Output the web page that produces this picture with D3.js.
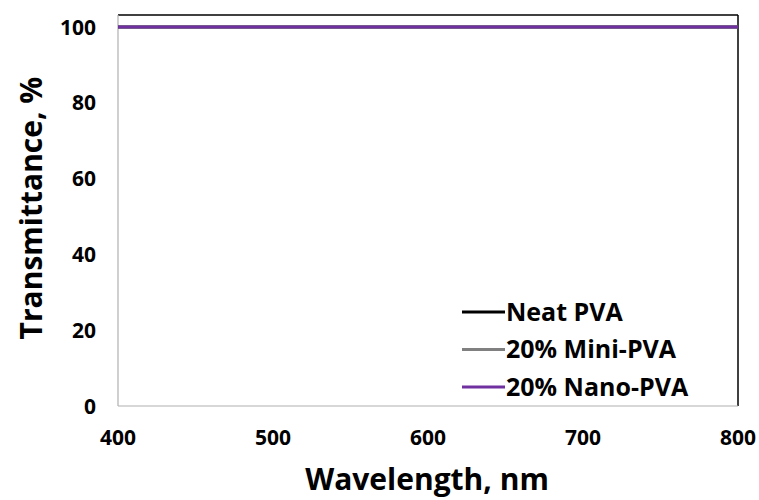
<!DOCTYPE html>
<html>
<head>
<meta charset="utf-8">
<script src="https://cdn.jsdelivr.net/npm/d3@7"></script>
<style>
  body { margin: 0; background: #fff; }
  text { font-family: "Open Sans", Lato, sans-serif; font-weight: bold; fill: #000; }
</style>
</head>
<body>
<script>
// data: all three films sit at ~100 % over the whole range
var wavelengths = [400, 500, 600, 700, 800];
var neatPVA = [100, 100, 100, 100, 100];
var miniPVA = [100, 100, 100, 100, 100];
var nanoPVA = [100, 100, 100, 100, 100];
var seriesNames = ["Neat PVA", "20% Mini-PVA", "20% Nano-PVA"];
var seriesColors = ["#000000", "#808080", "#7030a0"];
var xTicks = [400, 500, 600, 700, 800];
var yTicks = [0, 20, 40, 60, 80, 100];

var width = 759, height = 500;
var plot = {left: 118, top: 15, right: 738, bottom: 406};

var svg = d3.select("body").append("svg")
  .attr("width", width)
  .attr("height", height);

var x = d3.scaleLinear().domain([400, 800]).range([plot.left, plot.right]);
var y = d3.scaleLinear().domain([0, 103.2]).range([plot.bottom, plot.top]);

// frame: grey left/bottom axes, black top/right
svg.append("line").attr("x1", plot.left).attr("x2", plot.right).attr("y1", plot.top).attr("y2", plot.top)
  .attr("stroke", "#000").attr("stroke-width", 1.5);
svg.append("line").attr("x1", plot.right).attr("x2", plot.right).attr("y1", plot.top).attr("y2", plot.bottom)
  .attr("stroke", "#000").attr("stroke-width", 1.5);
svg.append("line").attr("x1", plot.left).attr("x2", plot.left).attr("y1", plot.top).attr("y2", plot.bottom)
  .attr("stroke", "#b0b0b0").attr("stroke-width", 1.2);
svg.append("line").attr("x1", plot.left).attr("x2", plot.right).attr("y1", plot.bottom).attr("y2", plot.bottom)
  .attr("stroke", "#b0b0b0").attr("stroke-width", 1.2);

// tick labels
svg.selectAll(".ylab").data(yTicks).enter().append("text")
  .attr("class", "ylab")
  .attr("x", 96)
  .attr("y", function(d){ return y(d); })
  .attr("dy", "0.36em")
  .attr("text-anchor", "end")
  .style("font-size", "21px")
  .text(function(d){ return d; });

svg.selectAll(".xlab").data(xTicks).enter().append("text")
  .attr("class", "xlab")
  .attr("x", function(d){ return x(d); })
  .attr("y", 445)
  .attr("text-anchor", "middle")
  .style("font-size", "21px")
  .text(function(d){ return d; });

// axis titles
svg.append("text")
  .attr("x", 427)
  .attr("y", 490)
  .attr("text-anchor", "middle")
  .style("font-size", "30px")
  .text("Wavelength, nm");

svg.append("text")
  .attr("transform", "translate(42,208) rotate(-90)")
  .attr("text-anchor", "middle")
  .style("font-size", "30px")
  .text("Transmittance, %");

// series lines
var line = d3.line()
  .x(function(d){ return x(d[0]); })
  .y(function(d){ return y(d[1]); });

[neatPVA, miniPVA, nanoPVA].forEach(function(vals, i){
  svg.append("path")
    .datum(d3.zip(wavelengths, vals))
    .attr("fill", "none")
    .attr("stroke", seriesColors[i])
    .attr("stroke-width", 3)
    .attr("d", line);
});

// legend
var legend = svg.selectAll(".legend").data(seriesNames).enter().append("g")
  .attr("class", "legend")
  .attr("transform", function(d, i){ return "translate(462," + (312 + i * 37.5) + ")"; });

legend.append("line")
  .attr("x1", 0).attr("x2", 43).attr("y1", 0).attr("y2", 0)
  .attr("stroke", function(d, i){ return seriesColors[i]; })
  .attr("stroke-width", 3);

legend.append("text")
  .attr("x", 44)
  .attr("dy", "0.35em")
  .style("font-size", "25px")
  .text(function(d){ return d; });
</script>
</body>
</html>
